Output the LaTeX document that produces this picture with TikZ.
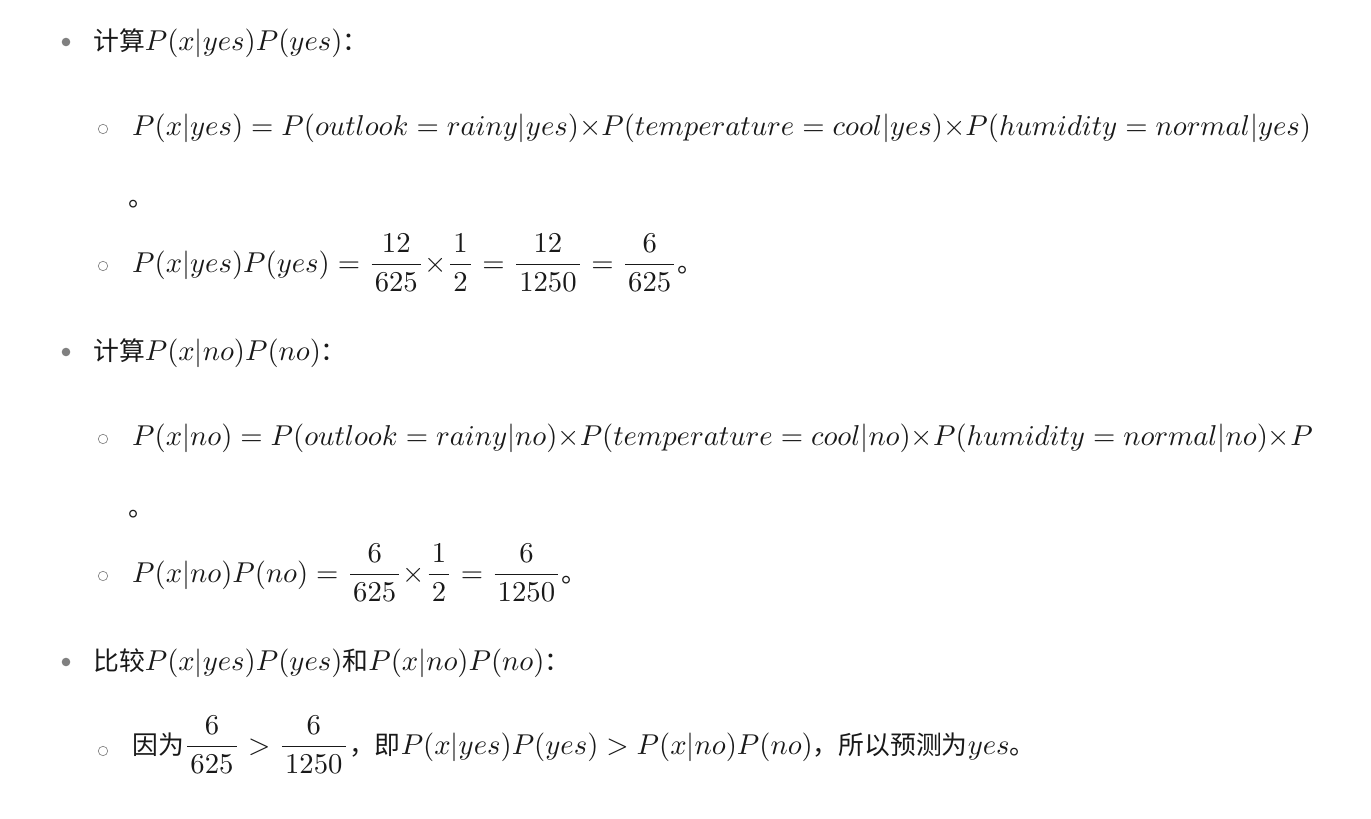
\documentclass[tikz,border=0pt]{standalone}
\usepackage{fontspec}
\usepackage{amsmath}
\newfontfamily\cjk{Noto Sans CJK SC}[Scale=0.9]
\newcommand{\zh}[1]{{\cjk #1}}
\newcommand{\enlarged}[1]{\scalebox{2.87}{#1}}
\newcommand{\kfrac}[2]{\dfrac{\mkern2mu#1\mkern2mu}{\mkern2mu#2\mkern2mu}}
\begin{document}
\begin{tikzpicture}[x=1pt, y=-1pt,
    item/.style={anchor=base west, inner sep=0pt, text=black!90, font=\fontsize{10}{12}\selectfont},
    dot/.style={fill=black!50},
    ring/.style={draw=black!50, line width=0.65pt}]
    \useasboundingbox (0,0) rectangle (1371,819);

    % Bullets, first level
    \foreach \y in {42,352,662}
        \fill[dot] (66,\y) circle (4.3);

    % Bullets, second level
    \foreach \y in {129,266,439,576,751}
        \draw[ring] (103,\y) circle (4.7);

    % Case yes
    \node[item] (calcyes) at (93,50) {\enlarged{\zh{计算}$P(x|yes)P(yes)$\zh{：}}};
    \node[item] (likeyes) at (132,135) {\enlarged{$P(x|yes)=P(outlook=rainy|yes){\times}P(temperature=cool|yes){\times}P(humidity=normal|yes)$}};
    \node[item] (stopyes) at (128,206) {\enlarged{\zh{。}}};
    \node[item] (postyes) at (132,272) {\enlarged{$P(x|yes)P(yes)=\kfrac{12}{625}{\times}\kfrac{1}{2}=\kfrac{12}{1250}=\kfrac{6}{625}$\zh{。}}};

    % Case no
    \node[item] (calcno) at (93,360) {\enlarged{\zh{计算}$P(x|no)P(no)$\zh{：}}};
    \node[item] (likeno) at (132,445) {\enlarged{$P(x|no)=P(outlook=rainy|no){\times}P(temperature=cool|no){\times}P(humidity=normal|no){\times}P$}};
    \node[item] (stopno) at (128,516) {\enlarged{\zh{。}}};
    \node[item] (postno) at (132,582) {\enlarged{$P(x|no)P(no)=\kfrac{6}{625}{\times}\kfrac{1}{2}=\kfrac{6}{1250}$\zh{。}}};

    % Comparison
    \node[item] (compare) at (93,670) {\enlarged{\zh{比较}$P(x|yes)P(yes)$\zh{和}$P(x|no)P(no)$\zh{：}}};
    \node[item] (result) at (132,754) {\enlarged{\zh{因为}$\kfrac{6}{625}>\kfrac{6}{1250}$\zh{，即}$P(x|yes)P(yes)>P(x|no)P(no)$\zh{，所以预测为}$yes$\zh{。}}};
\end{tikzpicture}
\end{document}
